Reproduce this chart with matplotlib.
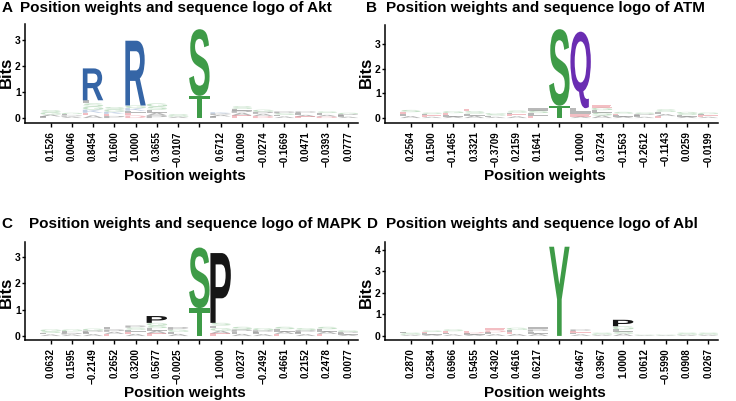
import numpy as np
import matplotlib
matplotlib.use('Agg')
import matplotlib.pyplot as plt
from matplotlib.textpath import TextPath
from matplotlib.patches import PathPatch
from matplotlib.transforms import Affine2D
from matplotlib.font_manager import FontProperties

plt.rcParams['font.family'] = ['Liberation Sans', 'DejaVu Sans']

W, H = 736, 401
positions = np.arange(1, 16)

# position weights (centre = phospho site, no label)
akt_weights = [0.1526, 0.0046, 0.8454, 0.1600, 1.0000, 0.3655, -0.0107, None,
               0.6712, 0.1009, -0.0274, -0.1669, 0.0471, -0.0393, 0.0777]
atm_weights = [0.2564, 0.1500, -0.1465, 0.3321, -0.3709, 0.2159, 0.1641, None,
               1.0000, 0.3724, -0.1563, -0.2612, -0.1143, 0.0259, -0.0199]
mapk_weights = [0.0632, 0.1595, -0.2149, 0.2652, 0.3200, 0.5677, -0.0025, None,
                1.0000, 0.0237, -0.2492, 0.4661, 0.2152, 0.2478, 0.0077]
abl_weights = [0.2870, 0.2584, 0.6966, 0.5455, 0.4302, 0.4616, 0.6217, None,
               0.6467, 0.3967, 1.0000, 0.0612, -0.5990, 0.0908, 0.0267]

# logo stacks, bottom to top: (residue, bits)
akt_logo = [
    [('L', .06), ('A', .07), ('G', .08), ('S', .09)],
    [('A', .05), ('P', .05), ('L', .05), ('G', .05)],
    [('A', .1), ('E', .1), ('K', .12), ('G', .12), ('S', .12), ('L', .12), ('R', 1.22)],
    [('P', .08), ('E', .08), ('K', .08), ('G', .08), ('S', .1)],
    [('D', .1), ('E', .1), ('L', .08), ('K', .1), ('G', .1), ('R', 2.48)],
    [('P', .1), ('A', .1), ('L', .12), ('S', .12), ('G', .12)],
    [('A', .05), ('G', .05), ('S', .05)],
    [('T', .85), ('S', 2.55)],
    [('L', .06), ('A', .06), ('P', .05), ('K', .05)],
    [('E', .1), ('A', .1), ('P', .08), ('L', .07), ('S', .1)],
    [('D', .08), ('A', .08), ('P', .08), ('G', .08)],
    [('A', .06), ('L', .06), ('S', .06), ('P', .07)],
    [('E', .06), ('A', .06), ('L', .07), ('P', .06)],
    [('D', .06), ('A', .06), ('L', .07), ('S', .06)],
    [('A', .05), ('L', .05), ('P', .05), ('G', .05)],
]
atm_logo = [
    [('A', .08), ('L', .08), ('E', .08), ('S', .09)],
    [('A', .05), ('E', .06), ('L', .05), ('S', .06)],
    [('A', .06), ('L', .06), ('E', .08), ('G', .08)],
    [('A', .09), ('L', .09), ('S', .1), ('E', .1)],
    [('A', .05), ('L', .05), ('S', .05), ('G', .05)],
    [('A', .07), ('E', .08), ('L', .07), ('S', .08)],
    [('E', .1), ('L', .1), ('S', .1), ('I', .1)],
    [('T', .5), ('S', 3.1)],
    [('A', .06), ('E', .1), ('I', .12), ('L', .12), ('Q', 3.1)],
    [('A', .1), ('S', .12), ('L', .1), ('G', .1), ('E', .1)],
    [('A', .06), ('L', .06), ('E', .06), ('S', .07)],
    [('A', .05), ('L', .06), ('P', .05), ('S', .06)],
    [('E', .08), ('A', .08), ('L', .09), ('S', .1)],
    [('A', .06), ('L', .06), ('S', .06), ('G', .07)],
    [('A', .05), ('E', .06), ('L', .05), ('G', .06)],
]
mapk_logo = [
    [('A', .06), ('L', .06), ('S', .06), ('G', .07)],
    [('A', .06), ('P', .06), ('L', .06), ('G', .07)],
    [('A', .07), ('L', .07), ('P', .07), ('G', .07)],
    [('E', .08), ('A', .08), ('P', .09), ('L', .1)],
    [('A', .08), ('E', .08), ('L', .08), ('S', .08), ('P', .08)],
    [('E', .1), ('A', .1), ('L', .1), ('S', .1), ('G', .1), ('P', .26)],
    [('A', .08), ('L', .08), ('G', .08), ('P', .1)],
    [('T', 1.06), ('S', 2.3)],
    [('E', .1), ('A', .1), ('G', .1), ('L', .1), ('S', .1), ('P', 2.65)],
    [('A', .08), ('L', .08), ('P', .09), ('S', .1)],
    [('A', .07), ('L', .07), ('P', .08), ('G', .08)],
    [('E', .08), ('A', .09), ('L', .09), ('S', .09)],
    [('A', .07), ('L', .07), ('P', .08), ('S', .08)],
    [('E', .08), ('A', .09), ('L', .09), ('S', .09)],
    [('A', .05), ('L', .06), ('P', .05), ('G', .06)],
]
abl_logo = [
    [('A', .05), ('G', .05), ('S', .05), ('L', .05)],
    [('A', .06), ('L', .06), ('E', .06), ('S', .07)],
    [('A', .07), ('L', .07), ('E', .08), ('S', .08)],
    [('A', .06), ('L', .06), ('D', .06), ('E', .07)],
    [('A', .08), ('L', .09), ('D', .09), ('E', .09)],
    [('A', .09), ('E', .1), ('L', .09), ('G', .1)],
    [('A', .1), ('L', .1), ('P', .1), ('I', .1)],
    [('Y', 4.15)],
    [('A', .07), ('L', .08), ('E', .07), ('P', .08)],
    [('A', .05), ('G', .05), ('S', .05)],
    [('A', .1), ('S', .1), ('L', .1), ('G', .15), ('P', .3)],
    [('A', .03), ('G', .03)],
    [('A', .03), ('G', .03)],
    [('A', .05), ('G', .05), ('S', .05)],
    [('A', .05), ('G', .05), ('S', .05)],
]

logo_font = FontProperties(family='Liberation Sans', weight='bold')


def aa_color(ch):
    if ch in 'GSTYC':
        return '#3e9b47'
    if ch in 'NQ':
        return '#6a2db2'
    if ch in 'KRH':
        return '#3565a6'
    if ch in 'DE':
        return '#d8283a'
    return '#161616'


def draw_logo(ax, stacks, width=0.96):
    for x, stack in zip(positions, stacks):
        y0 = 0.0
        for ch, h in stack:
            tp = TextPath((0, 0), ch, size=1, prop=logo_font)
            bb = tp.get_extents()
            tr = (Affine2D().translate(-bb.x0, -bb.y0)
                  .scale(width / bb.width, h / bb.height)
                  .translate(x - width / 2, y0))
            alpha = 1.0 if h > 0.2 else 0.3
            ax.add_patch(PathPatch(tr.transform_path(tp), fc=aa_color(ch),
                                   ec='none', lw=0, alpha=alpha))
            y0 += h


def fmt(w):
    if w is None:
        return ''
    return f'{w:.4f}'.replace('-', '\u2212')


fig = plt.figure(figsize=(W / 100, H / 100), dpi=100)


def px_axes(l, t, r, b):
    return fig.add_axes([l / W, 1 - b / H, (r - l) / W, (b - t) / H])


panels = [
    # rect px, letter, name, weights, logo, ylim, ymax tick, title px, xlabel px, bits px
    ((25, 24, 358, 123), 'A', 'Akt', akt_weights, akt_logo, (-0.19, 3.6), 3,
     (2, 20, 12), (185, 176), (6, 72)),
    ((385, 25, 718, 123), 'B', 'ATM', atm_weights, atm_logo, (-0.2, 3.77), 3,
     (366, 386, 12), (545, 176), (366, 72)),
    ((25, 242, 358, 340), 'C', 'MAPK', mapk_weights, mapk_logo, (-0.15, 3.57), 3,
     (1, 29, 228), (185, 393), (6, 292)),
    ((385, 242, 718, 340), 'D', 'Abl', abl_weights, abl_logo, (-0.19, 4.37), 4,
     (367, 386, 228), (545, 393), (366, 292)),
]

for rect, letter, name, weights, logo, ylim, ymax, tpos, xl, bl in panels:
    ax = px_axes(*rect)
    draw_logo(ax, logo)
    ax.set_xlim(-0.2, 15.46)
    ax.set_ylim(*ylim)
    ax.set_xticks(positions)
    ax.set_xticklabels([fmt(w) for w in weights], rotation=90,
                       fontsize=7, fontweight='bold')
    ax.set_yticks(range(0, ymax + 1))
    ax.set_yticklabels([str(v) for v in range(0, ymax + 1)],
                       fontsize=7.5, fontweight='bold')
    for s in ['top', 'right']:
        ax.spines[s].set_visible(False)
    for s in ['left', 'bottom']:
        ax.spines[s].set_linewidth(1.1)
    ax.tick_params(axis='y', direction='out', length=2.5, width=1, pad=0.5)
    ax.tick_params(axis='x', direction='out', length=3, width=1, pad=3)

    fig.text(tpos[0] / W, 1 - tpos[2] / H, letter, fontsize=11,
             fontweight='bold', va='baseline', ha='left')
    fig.text(tpos[1] / W, 1 - tpos[2] / H,
             'Position weights and sequence logo of ' + name,
             fontsize=11, fontweight='bold', va='baseline', ha='left')
    fig.text(xl[0] / W, 1 - xl[1] / H, 'Position weights', fontsize=11,
             fontweight='bold', ha='center', va='center')
    fig.text(bl[0] / W, 1 - bl[1] / H, 'Bits', fontsize=12, fontweight='bold',
             rotation=90, ha='center', va='center')

fig.savefig('out.png', dpi=100)
